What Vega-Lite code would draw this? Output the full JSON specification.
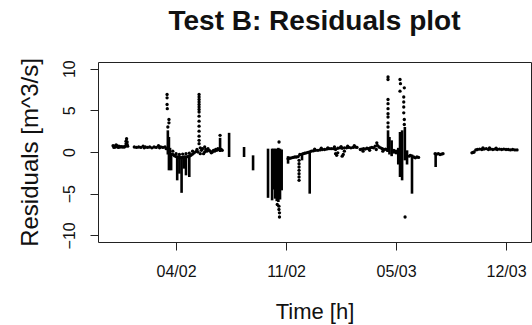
{
  "$schema": "https://vega.github.io/schema/vega-lite/v6.json",
  "width": 433,
  "height": 180,
  "autosize": {"type": "none"},
  "padding": {"left": 98, "top": 62, "right": 1, "bottom": 83},
  "background": "white",
  "config": {
    "view": {"stroke": "#222", "strokeWidth": 1},
    "font": "Liberation Sans",
    "axis": {"domain": false, "grid": false, "tickColor": "#222", "tickSize": 8, "labelColor": "#111", "titleColor": "#111", "labelFont": "Liberation Sans", "titleFont": "Liberation Sans", "titleFontWeight": "normal"}
  },
  "title": {"text": "Test B: Residuals plot", "font": "Liberation Sans", "fontSize": 28, "fontWeight": "bold", "color": "#111", "anchor": "middle", "offset": 22},
  "datasets": {
    "spans": [
      {"t": 0.925, "lo": -0.3, "hi": 2.6}, {"t": 0.935, "lo": -2.2, "hi": 1.8}, {"t": 0.945, "lo": -2.0, "hi": 0.5},
      {"t": 0.955, "lo": -2.2, "hi": -0.1}, {"t": 1.01, "lo": -3.4, "hi": -0.5}, {"t": 1.03, "lo": -2.6, "hi": -0.5},
      {"t": 1.05, "lo": -4.9, "hi": -0.5}, {"t": 1.07, "lo": -2.0, "hi": -0.5}, {"t": 1.09, "lo": -2.8, "hi": -0.5},
      {"t": 1.12, "lo": -3.0, "hi": -0.5},
      {"t": 1.40, "lo": 0.0, "hi": 1.7}, {"t": 1.482, "lo": -0.6, "hi": 2.3},
      {"t": 1.618, "lo": -0.6, "hi": 0.6}, {"t": 1.70, "lo": -2.2, "hi": -0.4},
      {"t": 1.836, "lo": -5.5, "hi": 0.4}, {"t": 1.873, "lo": -5.8, "hi": 0.4}, {"t": 1.885, "lo": -4.5, "hi": 0.4},
      {"t": 1.90, "lo": -5.6, "hi": 0.4}, {"t": 1.915, "lo": -5.9, "hi": 0.4}, {"t": 1.93, "lo": -6.0, "hi": 0.5},
      {"t": 1.945, "lo": -5.7, "hi": 0.4}, {"t": 1.96, "lo": -4.6, "hi": 0.3},
      {"t": 2.018, "lo": -1.4, "hi": -0.5}, {"t": 2.145, "lo": -1.0, "hi": -0.3}, {"t": 2.215, "lo": -5.0, "hi": 0.0},
      {"t": 2.927, "lo": 0.0, "hi": 2.6}, {"t": 2.94, "lo": -0.3, "hi": 1.8}, {"t": 2.96, "lo": -0.5, "hi": 1.4},
      {"t": 3.02, "lo": -1.5, "hi": 0.5}, {"t": 3.036, "lo": -3.0, "hi": 2.4}, {"t": 3.055, "lo": -3.4, "hi": 2.6},
      {"t": 3.08, "lo": -1.0, "hi": 3.0}, {"t": 3.10, "lo": -1.5, "hi": 0.2}, {"t": 3.145, "lo": -5.0, "hi": -0.3},
      {"t": 3.36, "lo": -1.8, "hi": -0.2}
    ],
    "points": [
      {"t": 0.427, "r": 0.75}, {"t": 0.435, "r": 0.55}, {"t": 0.44, "r": 0.7}, {"t": 0.45, "r": 0.6}, {"t": 0.455, "r": 0.85},
      {"t": 0.46, "r": 0.75}, {"t": 0.47, "r": 0.65}, {"t": 0.475, "r": 0.55}, {"t": 0.48, "r": 0.7}, {"t": 0.49, "r": 0.6},
      {"t": 0.50, "r": 0.65}, {"t": 0.51, "r": 0.6}, {"t": 0.52, "r": 0.62}, {"t": 0.53, "r": 0.6}, {"t": 0.54, "r": 0.7},
      {"t": 0.545, "r": 1.0}, {"t": 0.545, "r": 1.3}, {"t": 0.55, "r": 1.6}, {"t": 0.555, "r": 0.9}, {"t": 0.555, "r": 1.2}, {"t": 0.56, "r": 0.7},
      {"t": 0.62, "r": 0.6}, {"t": 0.64, "r": 0.55}, {"t": 0.66, "r": 0.6}, {"t": 0.68, "r": 0.55}, {"t": 0.70, "r": 0.7},
      {"t": 0.71, "r": 0.5}, {"t": 0.72, "r": 0.6}, {"t": 0.74, "r": 0.55}, {"t": 0.76, "r": 0.6}, {"t": 0.78, "r": 0.5},
      {"t": 0.80, "r": 0.6}, {"t": 0.82, "r": 0.55}, {"t": 0.84, "r": 0.75}, {"t": 0.85, "r": 0.5}, {"t": 0.86, "r": 0.6},
      {"t": 0.88, "r": 0.55}, {"t": 0.90, "r": 0.6}, {"t": 0.91, "r": 0.4},
      {"t": 0.918, "r": 6.9}, {"t": 0.918, "r": 6.5}, {"t": 0.918, "r": 5.7}, {"t": 0.92, "r": 5.2}, {"t": 0.935, "r": 3.9},
      {"t": 0.935, "r": 3.5}, {"t": 0.925, "r": 3.0},
      {"t": 0.97, "r": -0.3}, {"t": 0.985, "r": -0.45}, {"t": 1.0, "r": -0.55}, {"t": 1.015, "r": -0.6},
      {"t": 1.03, "r": -0.65}, {"t": 1.045, "r": -0.7}, {"t": 1.06, "r": -0.65}, {"t": 1.075, "r": -0.6}, {"t": 1.09, "r": -0.6},
      {"t": 1.105, "r": -0.55}, {"t": 1.12, "r": -0.5}, {"t": 1.135, "r": -0.4}, {"t": 1.15, "r": -0.25}, {"t": 1.165, "r": -0.1},
      {"t": 1.18, "r": 0.05}, {"t": 0.97, "r": 0.1}, {"t": 1.0, "r": -0.2}, {"t": 1.03, "r": -0.3}, {"t": 1.06, "r": -0.25},
      {"t": 1.09, "r": -0.2}, {"t": 1.12, "r": -0.15}, {"t": 1.15, "r": 0.1},
      {"t": 1.209, "r": 6.9}, {"t": 1.209, "r": 6.6}, {"t": 1.209, "r": 6.3}, {"t": 1.209, "r": 6.0}, {"t": 1.209, "r": 5.7},
      {"t": 1.209, "r": 5.4}, {"t": 1.209, "r": 5.1}, {"t": 1.209, "r": 4.8}, {"t": 1.209, "r": 4.3}, {"t": 1.209, "r": 3.7},
      {"t": 1.209, "r": 3.1}, {"t": 1.209, "r": 2.5}, {"t": 1.209, "r": 1.9}, {"t": 1.209, "r": 1.4}, {"t": 1.209, "r": 1.0},
      {"t": 1.19, "r": 0.3}, {"t": 1.20, "r": 0.0}, {"t": 1.22, "r": 0.5}, {"t": 1.23, "r": 0.2}, {"t": 1.24, "r": 0.4},
      {"t": 1.25, "r": -0.2}, {"t": 1.26, "r": 0.6}, {"t": 1.27, "r": 0.3}, {"t": 1.28, "r": 0.1}, {"t": 1.29, "r": 0.4},
      {"t": 1.30, "r": 0.2}, {"t": 1.22, "r": -0.2}, {"t": 1.26, "r": 0.0},
      {"t": 1.31, "r": 0.1}, {"t": 1.32, "r": -0.1}, {"t": 1.33, "r": 0.0}, {"t": 1.34, "r": 0.2}, {"t": 1.35, "r": 0.1},
      {"t": 1.36, "r": 0.3}, {"t": 1.37, "r": 0.2}, {"t": 1.38, "r": 0.4}, {"t": 1.39, "r": 0.3}, {"t": 1.40, "r": 2.0},
      {"t": 1.41, "r": 0.3}, {"t": 1.42, "r": 0.2},
      {"t": 1.936, "r": 1.2}, {"t": 1.935, "r": -6.5}, {"t": 1.935, "r": -6.9}, {"t": 1.94, "r": -7.3}, {"t": 1.94, "r": -7.8},
      {"t": 1.92, "r": -6.3},
      {"t": 2.018, "r": -0.8}, {"t": 2.035, "r": -0.75}, {"t": 2.05, "r": -0.7}, {"t": 2.065, "r": -0.65}, {"t": 2.08, "r": -0.6},
      {"t": 2.095, "r": -0.6}, {"t": 2.11, "r": -0.55}, {"t": 2.125, "r": -0.3}, {"t": 2.14, "r": -0.3}, {"t": 2.155, "r": -0.2},
      {"t": 2.17, "r": -0.15}, {"t": 2.185, "r": -0.1}, {"t": 2.20, "r": -0.05}, {"t": 2.215, "r": 0.0},
      {"t": 2.118, "r": -1.0}, {"t": 2.118, "r": -1.4}, {"t": 2.118, "r": -1.8}, {"t": 2.118, "r": -2.2}, {"t": 2.118, "r": -2.6},
      {"t": 2.118, "r": -3.0}, {"t": 2.118, "r": -3.4},
      {"t": 2.23, "r": 0.1}, {"t": 2.25, "r": 0.15}, {"t": 2.27, "r": 0.2}, {"t": 2.29, "r": 0.2}, {"t": 2.31, "r": 0.25},
      {"t": 2.33, "r": 0.3}, {"t": 2.35, "r": 0.3}, {"t": 2.37, "r": 0.35}, {"t": 2.39, "r": 0.4}, {"t": 2.41, "r": 0.4},
      {"t": 2.43, "r": 0.4}, {"t": 2.45, "r": 0.3}, {"t": 2.47, "r": 0.45}, {"t": 2.49, "r": 0.5}, {"t": 2.51, "r": 0.45},
      {"t": 2.53, "r": 0.5}, {"t": 2.55, "r": 0.5}, {"t": 2.57, "r": 0.55}, {"t": 2.59, "r": 0.5}, {"t": 2.61, "r": 0.55},
      {"t": 2.63, "r": 0.6}, {"t": 2.645, "r": 0.55}, {"t": 2.45, "r": -0.2}, {"t": 2.46, "r": -0.4}, {"t": 2.47, "r": -0.1},
      {"t": 2.51, "r": -0.5}, {"t": 2.52, "r": -0.3}, {"t": 2.53, "r": 0.1}, {"t": 2.26, "r": 0.35}, {"t": 2.32, "r": 0.45},
      {"t": 2.38, "r": 0.5}, {"t": 2.44, "r": 0.6}, {"t": 2.50, "r": 0.65}, {"t": 2.56, "r": 0.7}, {"t": 2.62, "r": 0.75},
      {"t": 2.675, "r": 0.3}, {"t": 2.69, "r": 0.35}, {"t": 2.705, "r": 0.4}, {"t": 2.72, "r": 0.35}, {"t": 2.735, "r": 0.45},
      {"t": 2.75, "r": 0.4}, {"t": 2.765, "r": 0.5}, {"t": 2.78, "r": 0.55}, {"t": 2.795, "r": 0.5}, {"t": 2.81, "r": 0.7},
      {"t": 2.825, "r": 1.1}, {"t": 2.83, "r": 0.8}, {"t": 2.845, "r": 0.6}, {"t": 2.86, "r": 0.5}, {"t": 2.875, "r": 0.4},
      {"t": 2.89, "r": 0.3}, {"t": 2.905, "r": 0.35}, {"t": 2.92, "r": 0.2}, {"t": 2.70, "r": 0.1}, {"t": 2.76, "r": 0.2},
      {"t": 2.82, "r": 0.3}, {"t": 2.88, "r": 0.1},
      {"t": 2.927, "r": 9.0}, {"t": 2.927, "r": 8.7}, {"t": 2.927, "r": 6.3}, {"t": 2.927, "r": 5.8}, {"t": 2.927, "r": 5.2},
      {"t": 2.927, "r": 4.6}, {"t": 2.927, "r": 4.2}, {"t": 2.927, "r": 3.5}, {"t": 2.927, "r": 3.0},
      {"t": 2.98, "r": 0.2}, {"t": 2.98, "r": 0.0}, {"t": 3.0, "r": -0.1}, {"t": 3.0, "r": 0.1},
      {"t": 3.036, "r": 8.7}, {"t": 3.04, "r": 8.2}, {"t": 3.075, "r": 7.7}, {"t": 3.036, "r": 7.3}, {"t": 3.07, "r": 6.6},
      {"t": 3.07, "r": 6.0}, {"t": 3.07, "r": 5.4}, {"t": 3.07, "r": 4.7}, {"t": 3.075, "r": 3.9}, {"t": 3.075, "r": 3.3},
      {"t": 3.082, "r": -7.8}, {"t": 3.16, "r": -0.6}, {"t": 3.175, "r": -0.7}, {"t": 3.19, "r": -0.6}, {"t": 3.205, "r": -0.65},
      {"t": 3.12, "r": -0.5}, {"t": 3.13, "r": -0.4},
      {"t": 3.355, "r": -0.2}, {"t": 3.37, "r": -0.25}, {"t": 3.385, "r": -0.2}, {"t": 3.40, "r": -0.3}, {"t": 3.415, "r": -0.25},
      {"t": 3.427, "r": -0.2},
      {"t": 3.69, "r": -0.1}, {"t": 3.70, "r": -0.05}, {"t": 3.71, "r": 0.0}, {"t": 3.725, "r": 0.25}, {"t": 3.74, "r": 0.3},
      {"t": 3.76, "r": 0.35}, {"t": 3.78, "r": 0.3}, {"t": 3.80, "r": 0.35}, {"t": 3.82, "r": 0.4}, {"t": 3.84, "r": 0.3},
      {"t": 3.86, "r": 0.35}, {"t": 3.88, "r": 0.3}, {"t": 3.90, "r": 0.35}, {"t": 3.92, "r": 0.3}, {"t": 3.94, "r": 0.35},
      {"t": 3.96, "r": 0.3}, {"t": 3.98, "r": 0.35}, {"t": 4.00, "r": 0.3}, {"t": 4.02, "r": 0.3}, {"t": 4.04, "r": 0.25},
      {"t": 4.06, "r": 0.3}, {"t": 4.08, "r": 0.25}, {"t": 4.10, "r": 0.25}, {"t": 3.79, "r": 0.5}, {"t": 3.85, "r": 0.5},
      {"t": 3.91, "r": 0.45}
    ]
  },
  "layer": [
    {
      "data": {"name": "spans"},
      "mark": {"type": "rule", "color": "#000", "strokeWidth": 2.6},
      "encoding": {
        "x": {"field": "t", "type": "quantitative", "scale": {"domain": [0.29, 4.227], "nice": false, "zero": false},
          "axis": {"values": [1, 2, 3, 4], "title": "Time [h]", "titleFontSize": 22, "titlePadding": 22, "labelFontSize": 16, "labelPadding": 13,
            "labelExpr": "datum.value == 1 ? '04/02' : datum.value == 2 ? '11/02' : datum.value == 3 ? '05/03' : '12/03'"}},
        "y": {"field": "lo", "type": "quantitative", "scale": {"domain": [-10.8, 10.8], "nice": false, "zero": false},
          "axis": {"values": [-10, -5, 0, 5, 10], "title": "Residuals [m^3/s]", "titleFontSize": 24, "titlePadding": 19, "labelFontSize": 16,
            "labelAngle": -90, "labelAlign": "center", "labelBaseline": "bottom", "labelPadding": 13}},
        "y2": {"field": "hi"}
      }
    },
    {
      "data": {"name": "points"},
      "mark": {"type": "point", "filled": true, "color": "#000", "size": 11, "opacity": 1},
      "encoding": {
        "x": {"field": "t", "type": "quantitative"},
        "y": {"field": "r", "type": "quantitative"}
      }
    }
  ]
}
